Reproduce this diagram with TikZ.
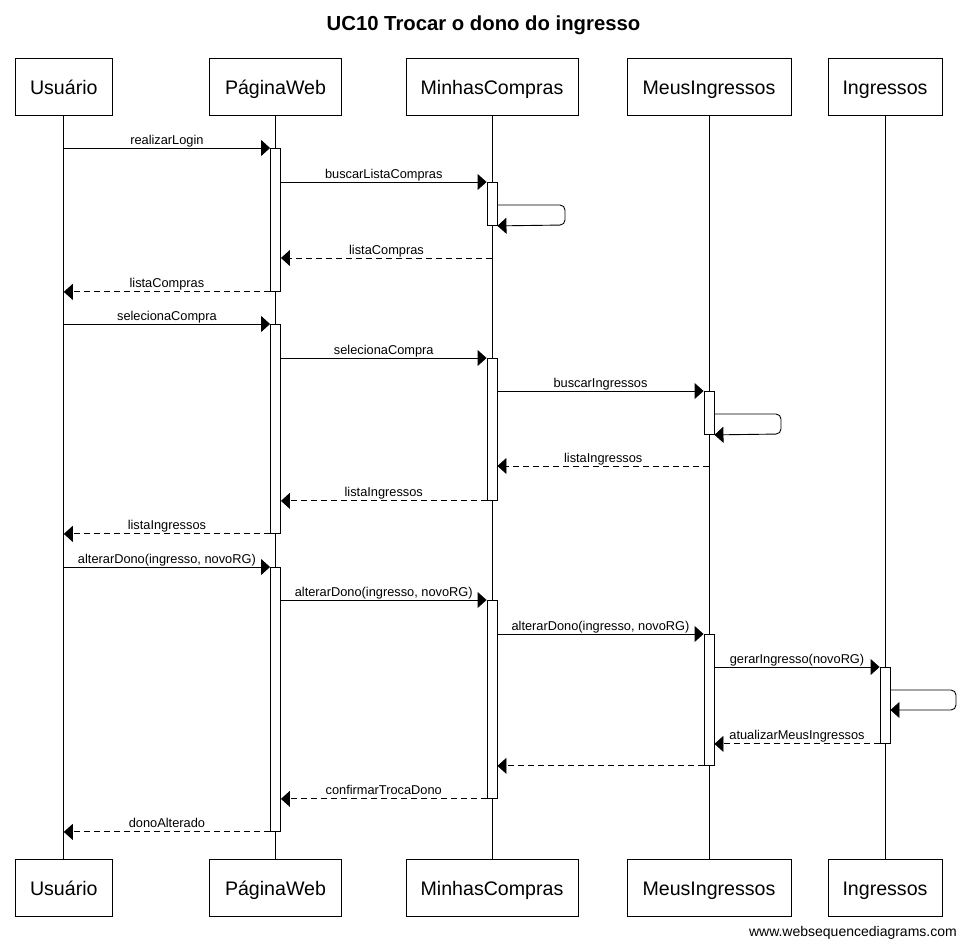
\documentclass[tikz,border=0pt]{standalone}
\usepackage{fontspec}
\setmainfont{Liberation Sans}
\usetikzlibrary{arrows.meta}
\begin{document}
\begin{tikzpicture}[x=1pt,y=-1pt,
  every node/.style={font=\fontsize{12.8}{14}\selectfont},
  actor/.style={draw,line width=0.9pt,minimum height=57pt,inner sep=0pt,text height=16pt,text depth=0pt,font=\fontsize{19.6}{22}\selectfont},
  life/.style={line width=0.9pt},
  act/.style={draw,fill=white,line width=0.9pt,minimum width=10pt,inner sep=0pt,anchor=north},
  msg/.style={line width=0.9pt,-{Triangle[length=9pt,width=16pt]}},
  ret/.style={msg,dash pattern=on 6pt off 4pt},
  selfm/.style={msg,rounded corners=5pt},
  lbl/.style={midway,anchor=south,inner sep=0.5pt,text depth=3pt}]
\useasboundingbox (0,0) rectangle (967,949);
\node[font=\fontsize{20.3}{24}\selectfont\bfseries] (title) at (483.5,25) {UC10 Trocar o dono do ingresso};
% actors
\node[actor,minimum width=97pt]  (u1) at (63.8,86.5) {Usuário};
\node[actor,minimum width=132pt] (p1) at (275.5,86.5) {PáginaWeb};
\node[actor,minimum width=172pt] (m1) at (492,86.5) {MinhasCompras};
\node[actor,minimum width=164pt] (g1) at (709,86.5) {MeusIngressos};
\node[actor,minimum width=114pt] (i1) at (885,86.5) {Ingressos};
\node[actor,minimum width=97pt]  (u2) at (63.8,887.5) {Usuário};
\node[actor,minimum width=132pt] (p2) at (275.5,887.5) {PáginaWeb};
\node[actor,minimum width=172pt] (m2) at (492,887.5) {MinhasCompras};
\node[actor,minimum width=164pt] (g2) at (709,887.5) {MeusIngressos};
\node[actor,minimum width=114pt] (i2) at (885,887.5) {Ingressos};
\foreach \a in {u,p,m,g,i} \draw[life] (\a1.south) -- (\a2.north);
% activations
\node[act,minimum height=143pt] (pa1) at (p1.south |- 0,148) {};
\node[act,minimum height=209pt] (pa2) at (p1.south |- 0,324) {};
\node[act,minimum height=264pt] (pa3) at (p1.south |- 0,567) {};
\node[act,minimum height=43pt]  (ma1) at (m1.south |- 0,182) {};
\node[act,minimum height=142pt] (ma2) at (m1.south |- 0,358) {};
\node[act,minimum height=198pt] (ma3) at (m1.south |- 0,600) {};
\node[act,minimum height=43pt]  (ga1) at (g1.south |- 0,391) {};
\node[act,minimum height=131pt] (ga2) at (g1.south |- 0,634) {};
\node[act,minimum height=76pt]  (ia1) at (i1.south |- 0,667) {};
% messages
\draw[msg] (u1.south |- pa1.north west) -- node[lbl]{realizarLogin} (pa1.north west);
\draw[msg] (pa1.east |- ma1.north) -- node[lbl]{buscarListaCompras} (ma1.north west);
\draw[selfm] (ma1.east |- 0,205) -| (565,225) -- (ma1.south east);
\draw[ret] (m1.south |- 0,258) -- node[lbl]{listaCompras} (pa1.east |- 0,258);
\draw[ret] (pa1.south west) -- node[lbl]{listaCompras} (u1.south |- pa1.south west);
\draw[msg] (u1.south |- pa2.north west) -- node[lbl]{selecionaCompra} (pa2.north west);
\draw[msg] (pa2.east |- ma2.north) -- node[lbl]{selecionaCompra} (ma2.north west);
\draw[msg] (ma2.east |- ga1.north) -- node[lbl]{buscarIngressos} (ga1.north west);
\draw[selfm] (ga1.east |- 0,414) -| (781,434) -- (ga1.south east);
\draw[ret] (g1.south |- 0,466) -- node[lbl]{listaIngressos} (ma2.east |- 0,466);
\draw[ret] (ma2.south west) -- node[lbl]{listaIngressos} (pa2.east |- ma2.south);
\draw[ret] (pa2.south west) -- node[lbl]{listaIngressos} (u1.south |- pa2.south west);
\draw[msg] (u1.south |- pa3.north west) -- node[lbl]{alterarDono(ingresso, novoRG)} (pa3.north west);
\draw[msg] (pa3.east |- ma3.north) -- node[lbl]{alterarDono(ingresso, novoRG)} (ma3.north west);
\draw[msg] (ma3.east |- ga2.north) -- node[lbl]{alterarDono(ingresso, novoRG)} (ga2.north west);
\draw[msg] (ga2.east |- ia1.north) -- node[lbl]{gerarIngresso(novoRG)} (ia1.north west);
\draw[selfm] (ia1.east |- 0,690) -| (956,710) -- (ia1.east |- 0,710);
\draw[ret] (ia1.south west) -- node[lbl]{atualizarMeusIngressos} (ga2.east |- ia1.south);
\draw[ret] (ga2.south west) -- (ma3.east |- ga2.south);
\draw[ret] (ma3.south west) -- node[lbl]{confirmarTrocaDono} (pa3.east |- ma3.south);
\draw[ret] (pa3.south west) -- node[lbl]{donoAlterado} (u1.south |- pa3.south west);
\node[anchor=east,inner sep=0pt,font=\fontsize{14}{16}\selectfont] (credit) at (957,933) {www.websequencediagrams.com};
\end{tikzpicture}
\end{document}
